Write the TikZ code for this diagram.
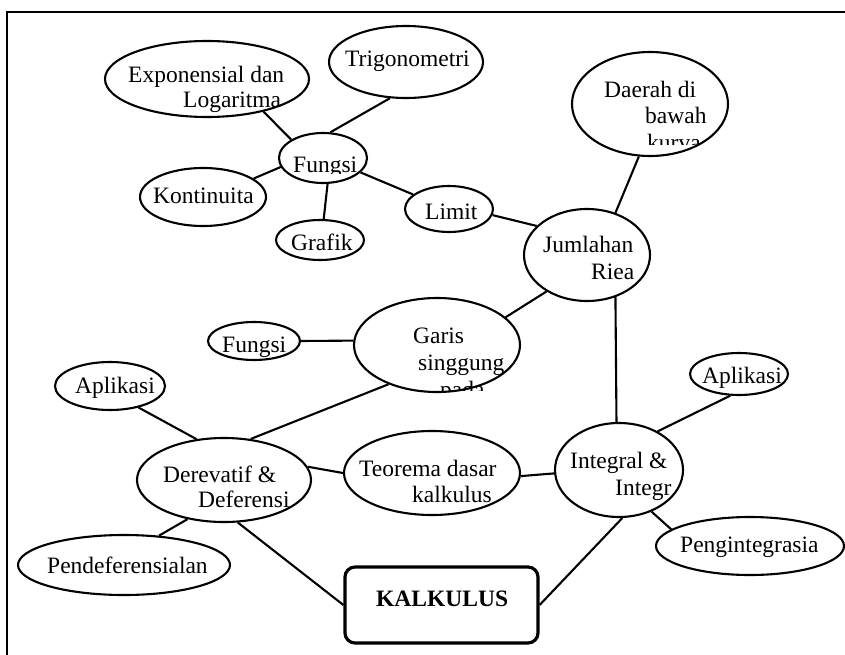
\documentclass[tikz,border=0pt]{standalone}
\usepackage{fontspec}
\setmainfont{Liberation Serif}
\usetikzlibrary{shapes.geometric}
\begin{document}
\begin{tikzpicture}[x=1pt,y=-1pt,
  bub/.style={ellipse, draw, line width=2.1pt, inner sep=0pt},
  txt/.style={anchor=base west, inner sep=0pt, font=\fontsize{23.5}{27}\selectfont},
  link/.style={line width=2.1pt}]
\useasboundingbox (0,0) rectangle (845,655);
\draw[line width=2.6pt] (7,655) -- (7,12) -- (845,12);

% bubbles
\node[bub, minimum width=204pt, minimum height=76pt] (expo) at (207,79) {};
\node[bub, minimum width=154pt, minimum height=72pt] (trig) at (406,62) {};
\node[bub, minimum width=88pt, minimum height=50pt] (fung1) at (323,158) {};
\node[bub, minimum width=126pt, minimum height=58pt] (kont) at (203,197) {};
\node[bub, minimum width=88pt, minimum height=40pt] (graf) at (320,240) {};
\node[bub, minimum width=88pt, minimum height=46pt] (limit) at (449,209) {};
\node[bub, minimum width=156pt, minimum height=104pt] (daerah) at (650,104) {};
\node[bub, minimum width=126pt, minimum height=92pt] (jum) at (587,255) {};
\node[bub, minimum width=92pt, minimum height=38pt] (fung2) at (254,341) {};
\node[bub, minimum width=166pt, minimum height=94pt] (garis) at (437,345) {};
\node[bub, minimum width=110pt, minimum height=48pt] (apl1) at (110,386) {};
\node[bub, minimum width=174pt, minimum height=84pt] (derev) at (224,480) {};
\node[bub, minimum width=212pt, minimum height=60pt] (pend) at (124,565) {};
\node[bub, minimum width=176pt, minimum height=84pt] (teo) at (432,473) {};
\node[bub, minimum width=128pt, minimum height=94pt] (integ) at (619,470) {};
\node[bub, minimum width=98pt, minimum height=42pt] (apl2) at (739,374) {};
\node[bub, minimum width=188pt, minimum height=58pt] (pengi) at (750,546) {};
\node[draw, rectangle, rounded corners=10pt, line width=3.2pt, inner sep=0pt,
      minimum width=193pt, minimum height=76pt] (kalk) at (441.5,605) {};

% texts
\node[txt] (t1a) at (128,83) {Exponensial dan};
\node[txt] (t1b) at (183,108) {Logaritma};
\node[txt] (t2) at (345,67) {Trigonometri};
\begin{scope}
\clip (280,140) rectangle (370,174);
\node[txt] (t3) at (293,172) {Fungsi};
\end{scope}
\node[txt] (t4) at (153,204) {Kontinuita};
\node[txt] (t5) at (291,250) {Grafik};
\node[txt] (t6) at (425,219) {Limit};
\node[txt] (t7a) at (604,98) {Daerah di};
\node[txt] (t7b) at (645,124) {bawah};
\begin{scope}
\clip (600,128) rectangle (720,145);
\node[txt] (t7c) at (647,151) {kurva};
\end{scope}
\node[txt] (t8a) at (543,252) {Jumlahan};
\node[txt] (t8b) at (591,279) {Riea};
\node[txt] (t9) at (222,352) {Fungsi};
\node[txt] (t10a) at (413,343) {Garis};
\node[txt] (t10b) at (418,370) {singgung};
\begin{scope}
\clip (400,376) rectangle (510,390);
\node[txt] (t10c) at (440,397) {pada};
\end{scope}
\node[txt] (t11) at (75,393) {Aplikasi};
\node[txt] (t12a) at (163,482) {Derevatif \&};
\node[txt] (t12b) at (198,507) {Deferensi};
\node[txt] (t13) at (47,573) {Pendeferensialan};
\node[txt] (t14a) at (359,476) {Teorema dasar};
\node[txt] (t14b) at (412,502) {kalkulus};
\node[txt] (t15a) at (570,468) {Integral \&};
\node[txt] (t15b) at (615,495) {Integr};
\node[txt] (t16) at (702,383) {Aplikasi};
\node[txt] (t17) at (680,552) {Pengintegrasia};
\node[txt, font=\fontsize{23.5}{27}\selectfont\bfseries] (t18) at (376,606) {KALKULUS};

% connectors
\draw[link] (expo.-30) -- (fung1.150);
\draw[link] (trig.-114) -- (fung1.74);
\draw[link] (kont.20) -- (fung1.-168);
\draw[link] (fung1.-80) -- (graf.80);
\draw[link] (fung1.-21) -- (limit.158);
\draw[link] (limit.-8) -- (jum.150);
\draw[link] (daerah.-102) -- (jum.56);
\draw[link] (jum.-56) -- (integ.93);
\draw[link] (jum.-138) -- (garis.22);
\draw[link] (fung2.0) -- (garis.177);
\draw[link] (garis.-141) -- (derev.57);
\draw[link] (apl1.-37) -- (derev.124);
\draw[link] (derev.9) -- (teo.180);
\draw[link] (derev.-133) -- (pend.40);
\draw[link] (derev.-72) -- (kalk.west);
\draw[link] (teo.-2) -- (integ.183);
\draw[link] (integ.45) -- (apl2.-112);
\draw[link] (integ.-52) -- (pengi.168);
\draw[link] (integ.-86) -- (kalk.east);
\end{tikzpicture}
\end{document}
